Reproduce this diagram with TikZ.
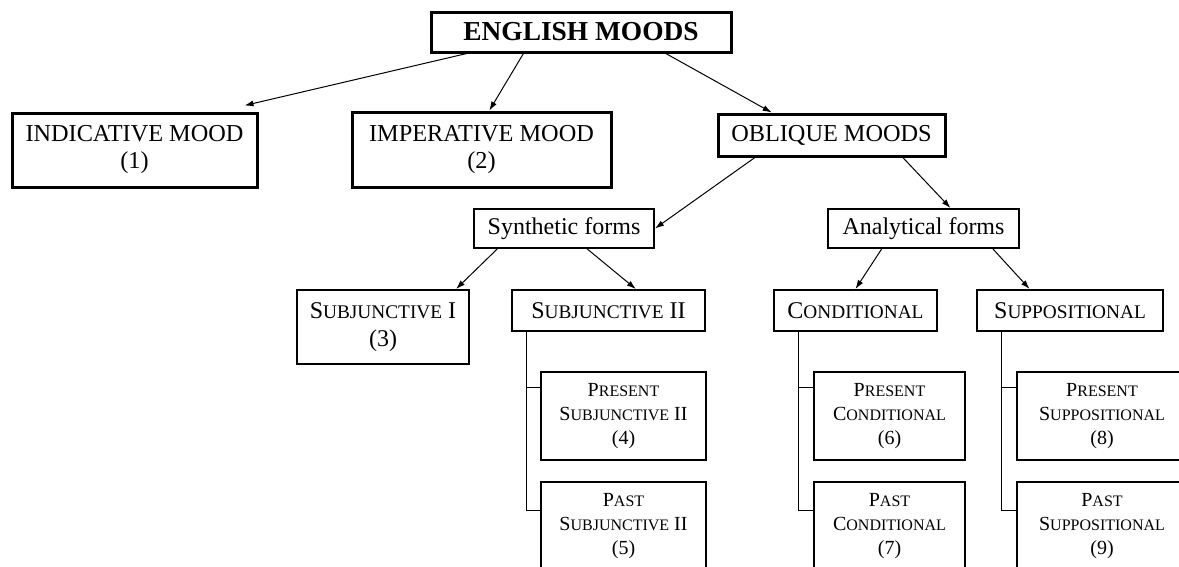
\documentclass[tikz,border=0pt]{standalone}
\usepackage{fontspec}
\setmainfont{Liberation Serif}
\usetikzlibrary{positioning,calc,arrows.meta}
\newcommand{\smsize}{19.3}
\newcommand{\scap}[2]{#1{\fontsize{\smsize}{\smsize}\selectfont #2}}

\begin{document}
\begin{tikzpicture}[x=1pt, y=-1pt,
	moodbox/.style={draw, line width=3pt, align=center, inner sep=0pt, font=\fontsize{24.3}{27}\selectfont},
	formbox/.style={draw, line width=2pt, align=center, inner sep=0pt, font=\fontsize{24}{28}\selectfont\renewcommand{\smsize}{19.3}},
	tensebox/.style={draw, line width=1.2pt, align=center, inner sep=0pt, minimum height=88pt, font=\fontsize{20}{24}\selectfont\renewcommand{\smsize}{16}},
	arrow/.style={-{Latex[length=9pt,width=6pt]}, line width=1pt},
	branch/.style={line width=1pt}]
	\useasboundingbox (0,0) rectangle (1179,566);
	\clip (0,0) rectangle (1179,566);
		% moods
		\node[moodbox, minimum width=300pt, minimum height=40pt, font=\fontsize{27.4}{30}\selectfont\bfseries] (eng) at (581,32) {ENGLISH MOODS};
		\node[moodbox, minimum width=245pt, minimum height=74pt] (ind) at (134.5,150) {INDICATIVE MOOD\\(1)};
		\node[moodbox, minimum width=259pt, minimum height=75pt] (imp) at (481.5,149.5) {IMPERATIVE MOOD\\(2)};
		\node[moodbox, minimum width=227pt, minimum height=42pt] (obl) at (831.5,135) {OBLIQUE MOODS};
		% forms
		\node[formbox, minimum width=180pt, minimum height=39pt] (syn) at (564,228.5) {Synthetic forms};
		\node[formbox, minimum width=191pt, minimum height=39pt] (ana) at (923.5,228.5) {Analytical forms};
		\node[formbox, minimum width=172pt, minimum height=74pt] (subone) at (383,327) {\scap{S}{UBJUNCTIVE} I\\(3)};
		\node[formbox, minimum width=193pt, minimum height=41pt] (subtwo) at (608.5,310.5) {\scap{S}{UBJUNCTIVE} II};
		\node[formbox, minimum width=163pt, minimum height=41pt] (cond) at (855.5,310.5) {\scap{C}{ONDITIONAL}};
		\node[formbox, minimum width=186pt, minimum height=41pt] (supp) at (1070,310.5) {\scap{S}{UPPOSITIONAL}};
		% tenses
		\node[tensebox, minimum width=165pt] (presub) at (623.5,416) {\scap{P}{RESENT}\\\scap{S}{UBJUNCTIVE} II\\(4)};
		\node[tensebox, minimum width=165pt] (pastsub) at (623.5,526) {\scap{P}{AST}\\\scap{S}{UBJUNCTIVE} II\\(5)};
		\node[tensebox, minimum width=151pt] (precond) at (889.5,416) {\scap{P}{RESENT}\\\scap{C}{ONDITIONAL}\\(6)};
		\node[tensebox, minimum width=151pt] (pastcond) at (889.5,526) {\scap{P}{AST}\\\scap{C}{ONDITIONAL}\\(7)};
		\node[tensebox, minimum width=170pt] (presupp) at (1102,416) {\scap{P}{RESENT}\\\scap{S}{UPPOSITIONAL}\\(8)};
		\node[tensebox, minimum width=170pt] (pastsupp) at (1102,526) {\scap{P}{AST}\\\scap{S}{UPPOSITIONAL}\\(9)};
		% arrows
		\draw[arrow] ($(eng.south west)!0.123!(eng.south east)$) -- ([xshift=-14pt,yshift=6pt]ind.north east);
		\draw[arrow] ($(eng.south west)!0.31!(eng.south east)$) -- ($(imp.north west)!0.53!(imp.north east)$);
		\draw[arrow] ($(eng.south west)!0.78!(eng.south east)$) -- ($(obl.north west)!0.24!(obl.north east)$);
		\draw[arrow] ($(obl.south west)!0.167!(obl.south east)$) -- (syn.east);
		\draw[arrow] ($(obl.south west)!0.81!(obl.south east)$) -- ($(ana.north west)!0.64!(ana.north east)$);
		\draw[arrow] ($(syn.south west)!0.133!(syn.south east)$) -- ($(subone.north west)!0.92!(subone.north east)$);
		\draw[arrow] ($(syn.south west)!0.628!(syn.south east)$) -- ($(subtwo.north west)!0.64!(subtwo.north east)$);
		\draw[arrow] ($(ana.south west)!0.283!(ana.south east)$) -- (cond.north);
		\draw[arrow] ($(ana.south west)!0.86!(ana.south east)$) -- ($(supp.north west)!0.285!(supp.north east)$);
		% branches
		\draw[branch] ([xshift=15pt]subtwo.south west) |- ([yshift=-16pt]presub.north west);
		\draw[branch] ([xshift=15pt]subtwo.south west) |- ([yshift=-29pt]pastsub.north west);
		\draw[branch] ([xshift=25pt]cond.south west) |- ([yshift=-16pt]precond.north west);
		\draw[branch] ([xshift=25pt]cond.south west) |- ([yshift=-29pt]pastcond.north west);
		\draw[branch] ([xshift=25pt]supp.south west) |- ([yshift=-16pt]presupp.north west);
		\draw[branch] ([xshift=25pt]supp.south west) |- ([yshift=-29pt]pastsupp.north west);
\end{tikzpicture}
\end{document}
